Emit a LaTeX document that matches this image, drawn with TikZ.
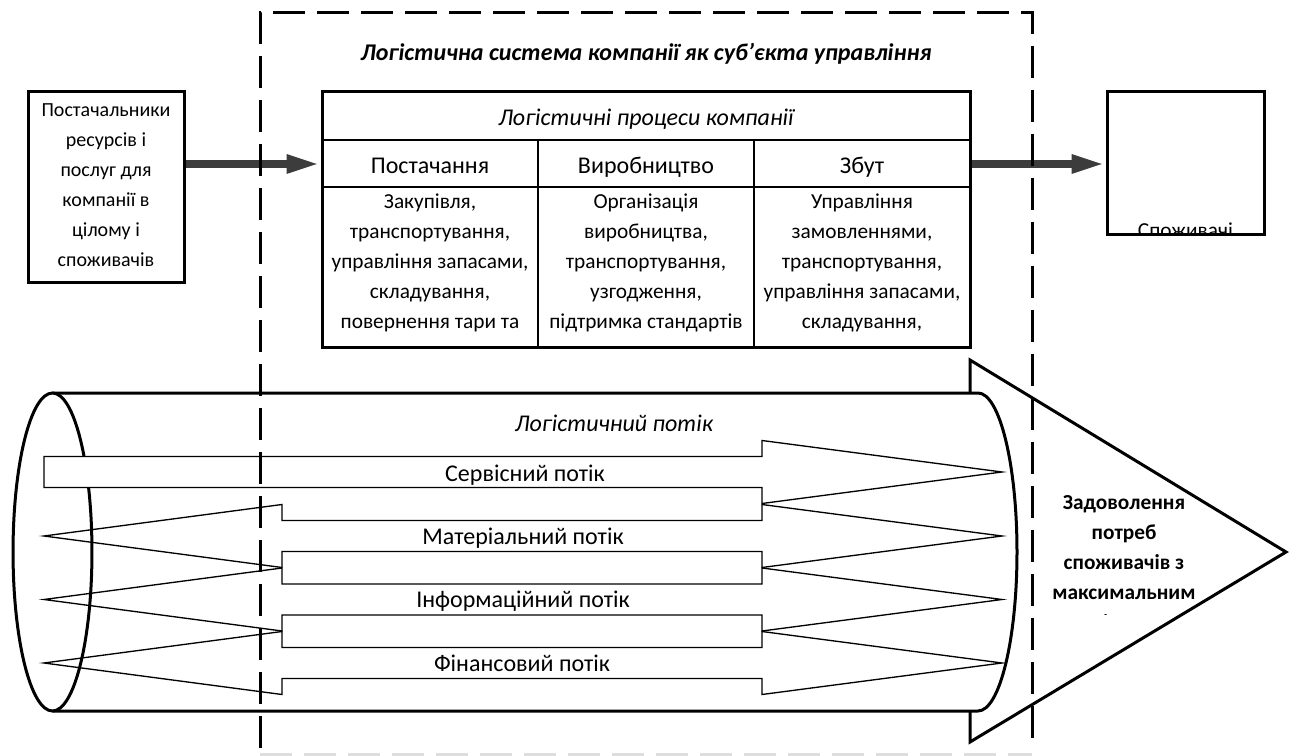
\documentclass[tikz,border=0pt]{standalone}
\usepackage{fontspec}
\setmainfont{Carlito}
\usetikzlibrary{arrows.meta}
\definecolor{arrowgray}{HTML}{3C3C3C}
\definecolor{faintgray}{HTML}{DDDDDD}

\begin{document}
\begin{tikzpicture}[
    x=0.75pt, y=-0.75pt,
    txt/.style={font=\fontsize{16}{22.5}\selectfont, inner sep=0pt, align=center},
    stxt/.style={txt, font=\fontsize{15}{22.5}\selectfont},
    ltxt/.style={txt, font=\fontsize{18}{22.5}\selectfont},
    itxt/.style={txt, font=\fontsize{18}{22.5}\selectfont\itshape},
    btxt/.style={txt, font=\fontsize{16}{22.5}\selectfont\bfseries},
    bitxt/.style={txt, font=\fontsize{18}{22.5}\selectfont\bfseries\itshape},
    heavybox/.style={draw, line width=2.25pt, inner sep=0pt},
    bigarrow/.style={arrowgray, line width=6pt, -{Triangle[length=25.5pt, width=12.75pt]}},
    sysframe/.style={line width=2.25pt, dash pattern=on 24pt off 9pt},
    flowline/.style={line width=1pt, line join=miter},
    tube/.style={line width=2.25pt},
  ]

  \useasboundingbox (0,0) rectangle (1297,756);

  % Title of the system
  \node[bitxt, anchor=base] (systitle) at (646,61)
    {Логістична система компанії як суб’єкта управління};

  % Suppliers
  \node[heavybox, minimum width=117pt, minimum height=143.25pt] (suppliers) at (106,187.5) {};
  \node[stxt, anchor=base] (supplierstxt) at (106,267)
    {Постачальники\\ресурсів і\\послуг для\\компанії в\\цілому і\\споживачів};

  % Table of processes
  \node[heavybox, minimum width=486pt, minimum height=191.25pt] (proc) at (646,219.5) {};
  \draw[line width=1.2pt] (322,140) -- (970,140);
  \draw[line width=1.2pt] (322,187) -- (970,187);
  \draw[line width=1.5pt] (538,140) -- (538,347);
  \draw[line width=1.5pt] (754,140) -- (754,347);
  \node[itxt, anchor=base] (prochead) at (646,126) {Логістичні процеси компанії};
  \node[ltxt, anchor=base] (supply) at (430,174) {Постачання};
  \node[ltxt, anchor=base] (production) at (646,174) {Виробництво};
  \node[ltxt, anchor=base] (sales) at (862,174) {Збут};
  \node[txt, anchor=base] (supplytxt) at (430,329)
    {Закупівля,\\транспортування,\\управління запасами,\\складування,\\повернення тари та};
  \node[txt, anchor=base] (productiontxt) at (646,329)
    {Організація\\виробництва,\\транспортування,\\узгодження,\\підтримка стандартів};
  \node[txt, anchor=base] (salestxt) at (862,329)
    {Управління\\замовленнями,\\транспортування,\\управління запасами,\\складування,};

  % Consumers (text cut by the box)
  \node[heavybox, minimum width=117.75pt, minimum height=107.25pt] (cons) at (1185.5,163.5) {};
  \begin{scope}
    \clip (1109,94) rectangle (1262,233.5);
    \node[txt, anchor=base] (constxt) at (1185.5,238) {Споживачі};
  \end{scope}

  % Thick arrows
  \coordinate (arrowrow) at (0,164);
  \draw[bigarrow] (suppliers.east |- arrowrow) -- (proc.west |- arrowrow);
  \draw[bigarrow] (proc.east |- arrowrow) -- (cons.west |- arrowrow);

  % Big arrow head
  \draw[tube, fill=white, line join=miter] (970,360) -- (1286,552) -- (970,742) -- cycle;

  % Cylinder
  \draw[tube, fill=white] (52.5,393) -- (978,393)
    arc[start angle=90, end angle=-90, x radius=29.25pt, y radius=119.25pt] -- (52.5,711);
  \draw[tube, fill=white] (52.5,552) ellipse[x radius=29.6pt, y radius=119.25pt];

  % Double flows
  \foreach \c in {536,599.5,663} {
    \draw[flowline] (44,\c) -- (282,\c-31.5) -- (282,\c-15.5) -- (762,\c-15.5)
      -- (762,\c-31.5) -- (1002,\c) -- (762,\c+31.5) -- (762,\c+15.5)
      -- (282,\c+15.5) -- (282,\c+31.5) -- cycle;
  }

  % Service flow
  \draw[flowline, fill=white] (44,456.5) -- (762,456.5) -- (762,440.5) -- (1002,472)
    -- (762,503.5) -- (762,487.5) -- (44,487.5) -- cycle;

  % Flow labels
  \node[itxt, anchor=base] (flowtitle) at (614,431) {Логістичний потік};
  \node[ltxt, anchor=base] (service) at (525,481) {Сервісний потік};
  \node[ltxt, anchor=base] (material) at (523,544) {Матеріальний потік};
  \node[ltxt, anchor=base] (information) at (523,607.5) {Інформаційний потік};
  \node[ltxt, anchor=base] (finance) at (522,671) {Фінансовий потік};

  % Goal text (cut at the bottom)
  \begin{scope}
    \clip (1040,485) rectangle (1210,614.5);
    \node[btxt, anchor=base] (goal) at (1124,629)
      {Задоволення\\потреб\\споживачів з\\максимальним\\рівнем};
  \end{scope}

  % Dashed border of the system
  \draw[sysframe] (260,748) -- (260,13) -- (1032,13) -- (1032,748);
  \draw[sysframe, faintgray] (260,754) -- (1032,754);

\end{tikzpicture}
\end{document}
